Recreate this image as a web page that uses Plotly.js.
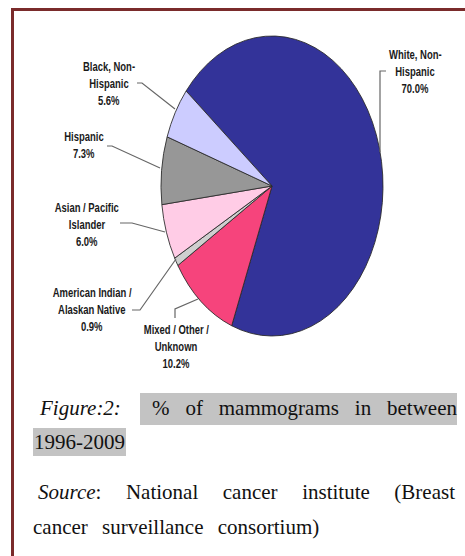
<!DOCTYPE html>
<html>
<head>
<meta charset="utf-8">
<script src="https://cdn.plot.ly/plotly-3.0.1.min.js"></script>
<style>
  html, body { margin:0; padding:0; background:#fff; }
  #wrap { position:relative; width:465px; height:556px; overflow:hidden; background:#fff; }
  #chart { position:absolute; left:0; top:0; width:465px; height:556px; }
  .frameTop { position:absolute; left:11px; top:8px; width:460px; height:3px; background:#7a2b2b; }
  .frameLeft { position:absolute; left:11px; top:8px; width:3px; height:560px; background:#7a2b2b; }
  .cap { position:absolute; font-family:"Liberation Serif","Times New Roman",serif; font-size:21px; color:#111; white-space:nowrap; line-height:28px; }
  .hl { background:#c3c3c3; }
  .just { text-align:justify; text-align-last:justify; white-space:normal; }
</style>
</head>
<body>
<div id="wrap">
  <div id="chart"></div>
  <div class="frameTop"></div>
  <div class="frameLeft"></div>
  <div class="cap" id="cap1a" style="left:40px; top:394px;"><i>Figure:2:</i></div>
  <div class="cap hl just" id="cap1b" style="left:140px; top:393px; width:305px; padding-left:12px; height:32px; line-height:30px;">% of mammograms in between</div>
  <div class="cap hl" id="cap2" style="left:33px; top:428px; height:28px; padding:0 1px;">1996-2009</div>
  <div class="cap just" id="cap3" style="left:38px; top:478px; width:417px;"><i>Source</i>: National cancer institute (Breast</div>
  <div class="cap" id="cap4" style="left:33px; top:513px; word-spacing:9px;">cancer surveillance consortium)</div>
</div>
<script>
// ---- data ----
const categories = ['White, Non-Hispanic', 'Mixed / Other / Unknown', 'American Indian / Alaskan Native', 'Asian / Pacific Islander', 'Hispanic', 'Black, Non-Hispanic'];
const labelLines = [['White, Non-', 'Hispanic'], ['Mixed / Other /', 'Unknown'], ['American Indian /', 'Alaskan Native'], ['Asian / Pacific', 'Islander'], ['Hispanic'], ['Black, Non-', 'Hispanic']];
const percentValues = [70.0, 10.2, 0.9, 6.0, 7.3, 5.6];

// ---- styles / layout ----
const sliceColors = ['#333399', '#f6447c', '#cfcfcf', '#ffcce6', '#979797', '#ccccff'];
const W = 465, H = 556;
const cx = 272, cy = 186, ry = 150, rx = 111;
// label anchor (center x, first-line center y), in px
const labelPos = [[415, 55], [176, 330], [92, 293], [87, 208], [84, 137], [109, 67]];
const leaderPaths = [
  [[386, 71], [380, 71], [380, 152]],
  [[175, 318], [175, 309], [198, 299]],
  [[132, 310], [140, 310], [176, 259]],
  [[120, 223], [132, 223], [165, 232]],
  [[107, 146], [112, 146], [160, 168]],
  [[137, 83], [142, 83], [175, 109]]
];
const LINE_H = 17;
const LABEL_SQUEEZE = 0.79; // narrow (condensed) label face

const px = x => x / W;
const py = y => 1 - y / H;

const annotations = [];
labelLines.forEach((lines, i) => {
  const all = lines.concat([percentValues[i].toFixed(1) + '%']);
  all.forEach((t, j) => {
    annotations.push({
      x: px(labelPos[i][0]), y: py(labelPos[i][1] + j * LINE_H),
      xref: 'paper', yref: 'paper', xanchor: 'center', yanchor: 'middle',
      text: '<b>' + t + '</b>', showarrow: false,
      font: { family: 'Liberation Sans, Arial', size: 12, color: '#1a1a1a' }
    });
  });
});

const shapes = leaderPaths.map(pts => ({
  type: 'path', xref: 'paper', yref: 'paper',
  path: pts.map((p, k) => (k ? 'L' : 'M') + px(p[0]) + ',' + py(p[1])).join(' '),
  line: { color: '#666666', width: 1.2 }
}));

const trace = {
  type: 'pie',
  labels: categories,
  values: percentValues,
  sort: false,
  direction: 'clockwise',
  rotation: -50.7,
  textinfo: 'none',
  hoverinfo: 'label+percent',
  marker: { colors: sliceColors, line: { color: '#2a2a2a', width: 1 } },
  domain: { x: [px(cx - ry), px(cx + ry)], y: [py(cy + ry), py(cy - ry)] }
};

const layout = {
  width: W, height: H,
  margin: { l: 0, r: 0, t: 0, b: 0 },
  paper_bgcolor: 'rgba(0,0,0,0)', plot_bgcolor: 'rgba(0,0,0,0)',
  showlegend: false,
  annotations: annotations,
  shapes: shapes
};

Plotly.newPlot('chart', [trace], layout, { displayModeBar: false, staticPlot: true }).then(gd => {
  // the original pie is an ellipse: stretch the circular pie horizontally around its centre
  const s = rx / ry;
  gd.querySelectorAll('.pielayer').forEach(g => {
    g.setAttribute('transform', `translate(${cx},0) scale(${s},1) translate(${-cx},0)`);
  });
  // condensed label face: squeeze each label line horizontally around its centre
  gd.querySelectorAll('g.annotation').forEach(g => {
    const bb = g.getBBox();
    const c = bb.x + bb.width / 2;
    g.setAttribute('transform', `translate(${c},0) scale(${LABEL_SQUEEZE},1) translate(${-c},0)`);
  });
});
</script>
</body>
</html>
